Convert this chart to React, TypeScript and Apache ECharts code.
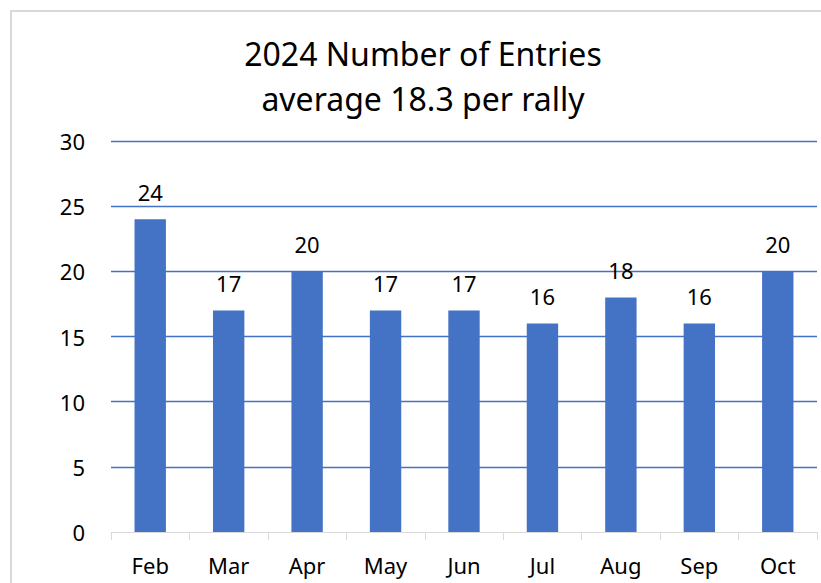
import React, { useEffect, useRef } from "react";
import * as echarts from "echarts";

const titleLines = ["2024 Number of Entries", "average 18.3 per rally"];
const months = ["Feb", "Mar", "Apr", "May", "Jun", "Jul", "Aug", "Sep", "Oct"];
const entries = [24, 17, 20, 17, 17, 16, 18, 16, 20];
const yTicks = { min: 0, max: 30, interval: 5 };

export default function App() {
  const ref = useRef<HTMLDivElement>(null);
  useEffect(() => {
    if (!ref.current) return;
    const chart = echarts.init(ref.current, null, { renderer: "svg" });
    const font = "'Noto Sans', sans-serif";
    chart.setOption({
      animation: false,
      backgroundColor: "#ffffff",
      title: {
        text: titleLines.join("\n"),
        left: 418,
        top: 26,
        textAlign: "center",
        textStyle: {
          fontFamily: font,
          fontSize: 32,
          fontWeight: "normal",
          color: "#000000",
          lineHeight: 45,
        },
      },
      graphic: [
        {
          type: "rect",
          shape: { x: 11, y: 11, width: 900, height: 700 },
          style: { fill: "none", stroke: "#d9d9d9", lineWidth: 2 },
          silent: true,
        },
      ],
      grid: { left: 111, right: 4, top: 141, bottom: 51, containLabel: false },
      xAxis: {
        type: "category",
        data: months,
        axisLine: { lineStyle: { color: "#d9d9d9", width: 1 } },
        axisTick: { show: true, length: 8, lineStyle: { color: "#d9d9d9" } },
        axisLabel: { fontFamily: font, fontSize: 22, color: "#000", margin: 22 },
      },
      yAxis: {
        type: "value",
        min: yTicks.min,
        max: yTicks.max,
        interval: yTicks.interval,
        axisLine: { show: false },
        axisTick: { show: false },
        axisLabel: { fontFamily: font, fontSize: 22, color: "#000", margin: 26 },
        splitLine: { showMinLine: false, lineStyle: { color: "#4472C4", width: 1.3 } },
      },
      series: [
        {
          type: "bar",
          data: entries,
          barWidth: "40%",
          itemStyle: { color: "#4472C4" },
          label: {
            show: true,
            position: "top",
            distance: 16,
            fontFamily: font,
            fontSize: 22,
            color: "#000",
          },
        },
      ],
    });
    return () => chart.dispose();
  }, []);
  return (
    <div
      ref={ref}
      style={{ position: "absolute", left: 0, top: 0, width: 821, height: 583 }}
    />
  );
}
